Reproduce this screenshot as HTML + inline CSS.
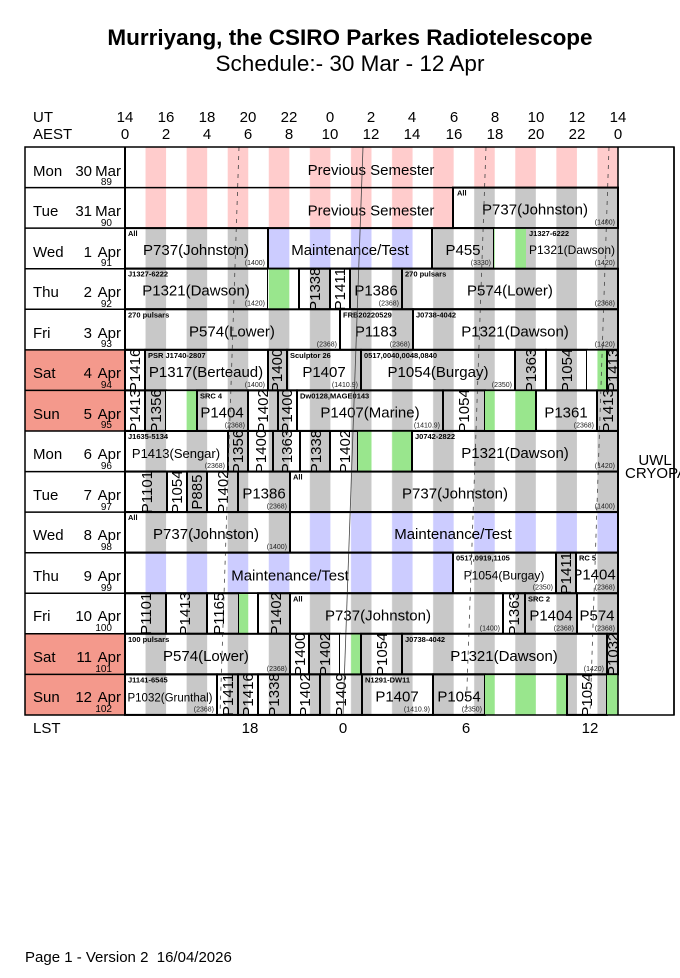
<!DOCTYPE html>
<html><head><meta charset="utf-8"><style>
body{margin:0;background:#fff}
svg{display:block;font-family:"Liberation Sans",sans-serif}
.m{font-size:15px;text-anchor:middle}
.h{font-size:7.5px;font-weight:bold}
.b{font-size:7px;text-anchor:end;fill:#222}
.v{font-size:15px;text-anchor:middle}
.bx{stroke:#000;stroke-width:2}
</style></head><body>
<svg width="680" height="978" viewBox="0 0 680 978" xmlns="http://www.w3.org/2000/svg">
<defs>
<pattern id="g" patternUnits="userSpaceOnUse" x="125" y="0" width="41.083" height="1000"><rect width="41.083" height="1000" fill="#fff"/><rect x="20.54" width="20.54" height="1000" fill="#c8c8c8"/></pattern>
<pattern id="p" patternUnits="userSpaceOnUse" x="125" y="0" width="41.083" height="1000"><rect width="41.083" height="1000" fill="#fff"/><rect x="20.54" width="20.54" height="1000" fill="#ffcccc"/></pattern>
<pattern id="u" patternUnits="userSpaceOnUse" x="125" y="0" width="41.083" height="1000"><rect width="41.083" height="1000" fill="#fff"/><rect x="20.54" width="20.54" height="1000" fill="#ccccff"/></pattern>
<pattern id="n" patternUnits="userSpaceOnUse" x="125" y="0" width="41.083" height="1000"><rect width="41.083" height="1000" fill="#fff"/><rect x="20.54" width="20.54" height="1000" fill="#99e68d"/></pattern>
</defs>
<text x="350" y="45" font-size="22.5" font-weight="bold" text-anchor="middle">Murriyang, the CSIRO Parkes Radiotelescope</text>
<text x="350" y="71" font-size="22.5" text-anchor="middle">Schedule:- 30 Mar - 12 Apr</text>
<g font-size="15" text-anchor="middle">
<text x="33" y="122" text-anchor="start">UT</text><text x="33" y="139" text-anchor="start">AEST</text>
<text x="125" y="122">14</text><text x="166" y="122">16</text><text x="207" y="122">18</text><text x="248" y="122">20</text><text x="289" y="122">22</text><text x="330" y="122">0</text><text x="371" y="122">2</text><text x="412" y="122">4</text><text x="454" y="122">6</text><text x="495" y="122">8</text><text x="536" y="122">10</text><text x="577" y="122">12</text><text x="618" y="122">14</text>
<text x="125" y="139">0</text><text x="166" y="139">2</text><text x="207" y="139">4</text><text x="248" y="139">6</text><text x="289" y="139">8</text><text x="330" y="139">10</text><text x="371" y="139">12</text><text x="412" y="139">14</text><text x="454" y="139">16</text><text x="495" y="139">18</text><text x="536" y="139">20</text><text x="577" y="139">22</text><text x="618" y="139">0</text>
<text x="33" y="733" text-anchor="start">LST</text><text x="250" y="733">18</text><text x="343" y="733">0</text><text x="466" y="733">6</text><text x="590" y="733">12</text>
</g>
<!-- weekend label fills -->
<rect x="25" y="350" width="100" height="81" fill="#f4998c"/>
<rect x="25" y="634" width="100" height="81" fill="#f4998c"/>

<!-- Row 0 -->
<g transform="translate(0,147)"><rect x="125" y="0" width="493" height="40.5" fill="url(#p)"/>
<text class="m" x="371" y="28">Previous Semester</text></g>
<!-- Row 1 -->
<g transform="translate(0,187.6)"><rect x="125" y="0" width="328" height="40.5" fill="url(#p)"/>
<text class="m" x="371" y="28">Previous Semester</text>
<rect class="bx" x="453" y="0" width="165" height="40.5" fill="url(#g)"/><text class="h" x="457" y="8">All</text><text class="m" x="535" y="27">P737(Johnston)</text><text class="b" x="615" y="37">(1400)</text></g>
<!-- Row 2 -->
<g transform="translate(0,228.1)">
<rect class="bx" x="125" y="0" width="143" height="40.5" fill="url(#g)"/><text class="h" x="128" y="8">All</text><text class="m" x="196" y="27">P737(Johnston)</text><text class="b" x="265" y="37">(1400)</text>
<rect class="bx" x="268" y="0" width="164" height="40.5" fill="url(#u)"/><text class="m" x="350" y="27">Maintenance/Test</text>
<rect class="bx" x="432" y="0" width="62" height="40.5" fill="url(#g)"/><text class="m" x="463" y="27">P455</text><text class="b" x="491" y="37">(3330)</text>
<rect x="494" y="0" width="32" height="40.5" fill="url(#n)"/>
<rect x="526" y="0" width="92" height="40.5" fill="url(#g)"/><text class="h" x="529" y="8">J1327-6222</text><text class="m" x="572" y="26" style="font-size:12px">P1321(Dawson)</text><text class="b" x="615" y="37">(1420)</text></g>
<!-- Row 3 -->
<g transform="translate(0,268.7)">
<rect class="bx" x="125" y="0" width="143" height="40.5" fill="url(#g)"/><text class="h" x="128" y="8">J1327-6222</text><text class="m" x="196" y="27">P1321(Dawson)</text><text class="b" x="265" y="37">(1420)</text>
<rect x="268" y="0" width="31" height="40.5" fill="url(#n)"/>
<rect class="bx" x="299" y="0" width="31" height="40.5" fill="url(#g)"/><text class="v" transform="translate(320,20.5) rotate(-90)">P1338</text>
<rect class="bx" x="330" y="0" width="20" height="40.5" fill="url(#g)"/><text class="v" transform="translate(345,20.5) rotate(-90)">P1411</text>
<rect class="bx" x="350" y="0" width="52" height="40.5" fill="url(#g)"/><text class="m" x="376" y="27">P1386</text><text class="b" x="399" y="37">(2368)</text>
<rect class="bx" x="402" y="0" width="216" height="40.5" fill="url(#g)"/><text class="h" x="405" y="8">270 pulsars</text><text class="m" x="510" y="27">P574(Lower)</text><text class="b" x="615" y="37">(2368)</text></g>
<!-- Row 4 -->
<g transform="translate(0,309.3)">
<rect class="bx" x="125" y="0" width="215" height="40.5" fill="url(#g)"/><text class="h" x="128" y="8">270 pulsars</text><text class="m" x="232" y="27">P574(Lower)</text><text class="b" x="337" y="37">(2368)</text>
<rect class="bx" x="340" y="0" width="73" height="40.5" fill="url(#g)"/><text class="h" x="343" y="8">FRB20220529</text><text class="m" x="376" y="27">P1183</text><text class="b" x="410" y="37">(2368)</text>
<rect class="bx" x="413" y="0" width="205" height="40.5" fill="url(#g)"/><text class="h" x="416" y="8">J0738-4042</text><text class="m" x="515" y="27">P1321(Dawson)</text><text class="b" x="615" y="37">(1420)</text></g>
<!-- Row 5 -->
<g transform="translate(0,349.9)">
<rect class="bx" x="125" y="0" width="20" height="40.5" fill="url(#g)"/><text class="v" transform="translate(140,20.5) rotate(-90)">P1416</text>
<rect class="bx" x="145" y="0" width="123" height="40.5" fill="url(#g)"/><text class="h" x="148" y="8">PSR J1740-2807</text><text class="m" x="206" y="27">P1317(Berteaud)</text><text class="b" x="265" y="37">(1400)</text>
<rect class="bx" x="268" y="0" width="19" height="40.5" fill="url(#g)"/><text class="v" transform="translate(282,20.5) rotate(-90)">P1400</text>
<rect class="bx" x="287" y="0" width="74" height="40.5" fill="url(#g)"/><text class="h" x="290" y="8">Sculptor 26</text><text class="m" x="324" y="27">P1407</text><text class="b" x="358" y="37">(1410.9)</text>
<rect class="bx" x="361" y="0" width="154" height="40.5" fill="url(#g)"/><text class="h" x="364" y="8">0517,0040,0048,0840</text><text class="m" x="438" y="27">P1054(Burgay)</text><text class="b" x="512" y="37">(2350)</text>
<rect class="bx" x="515" y="0" width="31" height="40.5" fill="url(#g)"/><text class="v" transform="translate(536,20.5) rotate(-90)">P1363</text>
<rect class="bx" x="546" y="0" width="41" height="40.5" fill="url(#g)"/><text class="v" transform="translate(572,20.5) rotate(-90)">P1054</text>
<rect x="587" y="0" width="20" height="40.5" fill="url(#n)"/>
<rect class="bx" x="607" y="0" width="11" height="40.5" fill="url(#g)"/><text class="v" transform="translate(618,20.5) rotate(-90)">P1413</text></g>
<!-- Row 6 -->
<g transform="translate(0,390.4)">
<rect class="bx" x="125" y="0" width="20" height="40.5" fill="url(#g)"/><text class="v" transform="translate(140,20.5) rotate(-90)">P1413</text>
<rect class="bx" x="145" y="0" width="21" height="40.5" fill="url(#g)"/><text class="v" transform="translate(161,20.5) rotate(-90)">P1356</text>
<rect x="166" y="0" width="31" height="40.5" fill="url(#n)"/>
<rect class="bx" x="197" y="0" width="51" height="40.5" fill="url(#g)"/><text class="h" x="200" y="8">SRC 4</text><text class="m" x="222" y="27">P1404</text><text class="b" x="245" y="37">(2368)</text>
<rect class="bx" x="248" y="0" width="30" height="40.5" fill="url(#g)"/><text class="v" transform="translate(268,20.5) rotate(-90)">P1402</text>
<rect class="bx" x="278" y="0" width="19" height="40.5" fill="url(#g)"/><text class="v" transform="translate(292,20.5) rotate(-90)">P1400</text>
<rect class="bx" x="297" y="0" width="146" height="40.5" fill="url(#g)"/><text class="h" x="300" y="8">Dw0128,MAGE0143</text><text class="m" x="370" y="27">P1407(Marine)</text><text class="b" x="440" y="37">(1410.9)</text>
<rect class="bx" x="443" y="0" width="42" height="40.5" fill="url(#g)"/><text class="v" transform="translate(469,20.5) rotate(-90)">P1054</text>
<rect x="485" y="0" width="51" height="40.5" fill="url(#n)"/>
<rect class="bx" x="536" y="0" width="61" height="40.5" fill="url(#g)"/><text class="m" x="566" y="27">P1361</text><text class="b" x="594" y="37">(2368)</text>
<rect class="bx" x="597" y="0" width="21" height="40.5" fill="url(#g)"/><text class="v" transform="translate(613,20.5) rotate(-90)">P1413</text></g>
<!-- Row 7 -->
<g transform="translate(0,431)">
<rect class="bx" x="125" y="0" width="103" height="40.5" fill="url(#g)"/><text class="h" x="128" y="8">J1635-5134</text><text class="m" x="176" y="27" style="font-size:13px">P1413(Sengar)</text><text class="b" x="225" y="37">(2368)</text>
<rect class="bx" x="228" y="0" width="20" height="40.5" fill="url(#g)"/><text class="v" transform="translate(243,20.5) rotate(-90)">P1356</text>
<rect class="bx" x="248" y="0" width="25" height="40.5" fill="url(#g)"/><text class="v" transform="translate(266,20.5) rotate(-90)">P1400</text>
<rect class="bx" x="273" y="0" width="27" height="40.5" fill="url(#g)"/><text class="v" transform="translate(292,20.5) rotate(-90)">P1363</text>
<rect class="bx" x="300" y="0" width="30" height="40.5" fill="url(#g)"/><text class="v" transform="translate(321,20.5) rotate(-90)">P1338</text>
<rect class="bx" x="330" y="0" width="28" height="40.5" fill="url(#g)"/><text class="v" transform="translate(350,20.5) rotate(-90)">P1402</text>
<rect x="358" y="0" width="54" height="40.5" fill="url(#n)"/>
<rect class="bx" x="412" y="0" width="206" height="40.5" fill="url(#g)"/><text class="h" x="415" y="8">J0742-2822</text><text class="m" x="515" y="27">P1321(Dawson)</text><text class="b" x="615" y="37">(1420)</text></g>
<!-- Row 8 -->
<g transform="translate(0,471.6)">
<rect class="bx" x="125" y="0" width="42" height="40.5" fill="url(#g)"/><text class="v" transform="translate(152,20.5) rotate(-90)">P1101</text>
<rect class="bx" x="167" y="0" width="20" height="40.5" fill="url(#g)"/><text class="v" transform="translate(182,20.5) rotate(-90)">P1054</text>
<rect class="bx" x="187" y="0" width="20" height="40.5" fill="url(#g)"/><text class="v" transform="translate(202,20.5) rotate(-90)">P885</text>
<rect class="bx" x="207" y="0" width="31" height="40.5" fill="url(#g)"/><text class="v" transform="translate(228,20.5) rotate(-90)">P1402</text>
<rect class="bx" x="238" y="0" width="52" height="40.5" fill="url(#g)"/><text class="m" x="264" y="27">P1386</text><text class="b" x="287" y="37">(2368)</text>
<rect class="bx" x="290" y="0" width="328" height="40.5" fill="url(#g)"/><text class="h" x="293" y="8">All</text><text class="m" x="455" y="27">P737(Johnston)</text><text class="b" x="615" y="37">(1400)</text></g>
<!-- Row 9 -->
<g transform="translate(0,512.1)">
<rect class="bx" x="125" y="0" width="165" height="40.5" fill="url(#g)"/><text class="h" x="128" y="8">All</text><text class="m" x="206" y="27">P737(Johnston)</text><text class="b" x="287" y="37">(1400)</text>
<rect class="bx" x="290" y="0" width="328" height="40.5" fill="url(#u)"/><text class="m" x="453" y="27">Maintenance/Test</text></g>
<!-- Row 10 -->
<g transform="translate(0,552.7)">
<rect class="bx" x="125" y="0" width="328" height="40.5" fill="url(#u)"/><text class="m" x="290" y="28">Maintenance/Test</text>
<rect class="bx" x="453" y="0" width="103" height="40.5" fill="url(#g)"/><text class="h" x="456" y="8">0517,0919,1105</text><text class="m" x="504" y="27" style="font-size:12px">P1054(Burgay)</text><text class="b" x="553" y="37">(2350)</text>
<rect class="bx" x="576" y="0" width="42" height="40.5" fill="url(#g)"/><text class="h" x="579" y="8">RC 5</text><text class="m" x="594" y="27">P1404</text><text class="b" x="615" y="37">(2368)</text>
<rect class="bx" x="556" y="0" width="20" height="40.5" fill="url(#g)"/><text class="v" transform="translate(571,20.5) rotate(-90)">P1411</text></g>
<!-- Row 11 -->
<g transform="translate(0,593.3)">
<rect class="bx" x="125" y="0" width="41" height="40.5" fill="url(#g)"/><text class="v" transform="translate(151,20.5) rotate(-90)">P1101</text>
<rect class="bx" x="166" y="0" width="41" height="40.5" fill="url(#g)"/><text class="v" transform="translate(190,20.5) rotate(-90)">P1413</text>
<rect class="bx" x="207" y="0" width="32" height="40.5" fill="url(#g)"/><text class="v" transform="translate(224,20.5) rotate(-90)">P1165</text>
<rect x="239" y="0" width="19" height="40.5" fill="url(#n)"/>
<rect class="bx" x="258" y="0" width="32" height="40.5" fill="url(#g)"/><text class="v" transform="translate(281,20.5) rotate(-90)">P1402</text>
<rect class="bx" x="290" y="0" width="213" height="40.5" fill="url(#g)"/><text class="h" x="293" y="8">All</text><text class="m" x="378" y="27">P737(Johnston)</text><text class="b" x="500" y="37">(1400)</text>
<rect class="bx" x="503" y="0" width="22" height="40.5" fill="url(#g)"/><text class="v" transform="translate(519,20.5) rotate(-90)">P1363</text>
<rect class="bx" x="525" y="0" width="52" height="40.5" fill="url(#g)"/><text class="h" x="528" y="8">SRC 2</text><text class="m" x="551" y="27">P1404</text><text class="b" x="574" y="37">(2368)</text>
<rect class="bx" x="577" y="0" width="41" height="40.5" fill="url(#g)"/><text class="m" x="597" y="27">P574</text><text class="b" x="615" y="37">(2368)</text></g>
<!-- Row 12 -->
<g transform="translate(0,633.8)">
<rect class="bx" x="125" y="0" width="165" height="40.5" fill="url(#g)"/><text class="h" x="128" y="8">100 pulsars</text><text class="m" x="206" y="27">P574(Lower)</text><text class="b" x="287" y="37">(2368)</text>
<rect class="bx" x="290" y="0" width="19" height="40.5" fill="url(#g)"/><text class="v" transform="translate(305,20.5) rotate(-90)">P1400</text>
<rect class="bx" x="309" y="0" width="31" height="40.5" fill="url(#g)"/><text class="v" transform="translate(330,20.5) rotate(-90)">P1402</text>
<rect x="340" y="0" width="21" height="40.5" fill="url(#n)"/>
<rect class="bx" x="361" y="0" width="41" height="40.5" fill="url(#g)"/><text class="v" transform="translate(387,20.5) rotate(-90)">P1054</text>
<rect class="bx" x="402" y="0" width="205" height="40.5" fill="url(#g)"/><text class="h" x="405" y="8">J0738-4042</text><text class="m" x="504" y="27">P1321(Dawson)</text><text class="b" x="604" y="37">(1420)</text>
<rect class="bx" x="607" y="0" width="11" height="40.5" fill="url(#g)"/><text class="v" transform="translate(618,20.5) rotate(-90)">P1032</text></g>
<!-- Row 13 -->
<g transform="translate(0,674.4)">
<rect class="bx" x="125" y="0" width="92" height="40.5" fill="url(#g)"/><text class="h" x="128" y="8">J1141-6545</text><text class="m" x="170" y="27" style="font-size:11.5px">P1032(Grunthal)</text><text class="b" x="214" y="37">(2368)</text>
<rect class="bx" x="217" y="0" width="21" height="40.5" fill="url(#g)"/><text class="v" transform="translate(233,20.5) rotate(-90)">P1411</text>
<rect class="bx" x="238" y="0" width="20" height="40.5" fill="url(#g)"/><text class="v" transform="translate(253,20.5) rotate(-90)">P1416</text>
<rect class="bx" x="258" y="0" width="32" height="40.5" fill="url(#g)"/><text class="v" transform="translate(279,20.5) rotate(-90)">P1338</text>
<rect class="bx" x="290" y="0" width="30" height="40.5" fill="url(#g)"/><text class="v" transform="translate(310,20.5) rotate(-90)">P1402</text>
<rect class="bx" x="320" y="0" width="42" height="40.5" fill="url(#g)"/><text class="v" transform="translate(346,20.5) rotate(-90)">P1409</text>
<rect class="bx" x="362" y="0" width="71" height="40.5" fill="url(#g)"/><text class="h" x="365" y="8">N1291-DW11</text><text class="m" x="397" y="27">P1407</text><text class="b" x="430" y="37">(1410.9)</text>
<rect class="bx" x="433" y="0" width="52" height="40.5" fill="url(#g)"/><text class="m" x="459" y="27">P1054</text><text class="b" x="482" y="37">(2350)</text>
<rect x="485" y="0" width="82" height="40.5" fill="url(#n)"/>
<rect class="bx" x="567" y="0" width="40" height="40.5" fill="url(#g)"/><text class="v" transform="translate(592,20.5) rotate(-90)">P1054</text>
<rect x="607" y="0" width="11" height="40.5" fill="url(#n)"/></g>

<!-- LST lines -->
<line x1="239" y1="147" x2="220" y2="715" stroke="#444" stroke-width="0.8" stroke-dasharray="4,5"/>
<line x1="363" y1="147" x2="343" y2="715" stroke="#444" stroke-width="0.8"/>
<line x1="486" y1="147" x2="466" y2="715" stroke="#444" stroke-width="0.8" stroke-dasharray="4,5"/>
<line x1="609" y1="147" x2="590" y2="715" stroke="#444" stroke-width="0.8" stroke-dasharray="4,5"/>

<!-- row lines & frame -->
<g stroke="#000" stroke-width="1.5">
<line x1="25" y1="187.6" x2="618" y2="187.6"/><line x1="25" y1="228.1" x2="618" y2="228.1"/><line x1="25" y1="268.7" x2="618" y2="268.7"/><line x1="25" y1="309.3" x2="618" y2="309.3"/><line x1="25" y1="349.9" x2="618" y2="349.9"/><line x1="25" y1="390.4" x2="618" y2="390.4"/><line x1="25" y1="431" x2="618" y2="431"/><line x1="25" y1="471.6" x2="618" y2="471.6"/><line x1="25" y1="512.1" x2="618" y2="512.1"/><line x1="25" y1="552.7" x2="618" y2="552.7"/><line x1="25" y1="593.3" x2="618" y2="593.3"/><line x1="25" y1="633.8" x2="618" y2="633.8"/><line x1="25" y1="674.4" x2="618" y2="674.4"/>
<line x1="125" y1="147" x2="125" y2="715" stroke-width="2"/><line x1="618" y1="147" x2="618" y2="715"/>
<rect x="25" y="147" width="649" height="568" fill="none"/>
</g>
<!-- day labels -->
<g font-size="15">
<text x="33" y="176">Mon</text><text x="33" y="216">Tue</text><text x="33" y="257">Wed</text><text x="33" y="297">Thu</text><text x="33" y="338">Fri</text><text x="33" y="378">Sat</text><text x="33" y="419">Sun</text><text x="33" y="459">Mon</text><text x="33" y="500">Tue</text><text x="33" y="540">Wed</text><text x="33" y="581">Thu</text><text x="33" y="621">Fri</text><text x="33" y="662">Sat</text><text x="33" y="702">Sun</text>
</g>
<g font-size="15" text-anchor="end">
<text x="92" y="176">30</text><text x="92" y="216">31</text><text x="92" y="257">1</text><text x="92" y="297">2</text><text x="92" y="338">3</text><text x="92" y="378">4</text><text x="92" y="419">5</text><text x="92" y="459">6</text><text x="92" y="500">7</text><text x="92" y="540">8</text><text x="92" y="581">9</text><text x="92" y="621">10</text><text x="92" y="662">11</text><text x="92" y="702">12</text>
<text x="121" y="176">Mar</text><text x="121" y="216">Mar</text><text x="121" y="257">Apr</text><text x="121" y="297">Apr</text><text x="121" y="338">Apr</text><text x="121" y="378">Apr</text><text x="121" y="419">Apr</text><text x="121" y="459">Apr</text><text x="121" y="500">Apr</text><text x="121" y="540">Apr</text><text x="121" y="581">Apr</text><text x="121" y="621">Apr</text><text x="121" y="662">Apr</text><text x="121" y="702">Apr</text>
</g>
<g font-size="10" text-anchor="end">
<text x="112" y="185">89</text><text x="112" y="226">90</text><text x="112" y="266">91</text><text x="112" y="307">92</text><text x="112" y="347">93</text><text x="112" y="388">94</text><text x="112" y="428">95</text><text x="112" y="469">96</text><text x="112" y="510">97</text><text x="112" y="550">98</text><text x="112" y="591">99</text><text x="112" y="631">100</text><text x="112" y="672">101</text><text x="112" y="712">102</text>
</g>
<text x="655" y="465" font-size="15" text-anchor="middle">UWL</text>
<text x="625" y="478" font-size="15">CRYOPAF</text>
<line x1="674" y1="147" x2="674" y2="715" stroke="#000" stroke-width="1.5"/>
<text x="25" y="962" font-size="15">Page 1 - Version 2&#160; 16/04/2026</text>
</svg>
</body></html>
